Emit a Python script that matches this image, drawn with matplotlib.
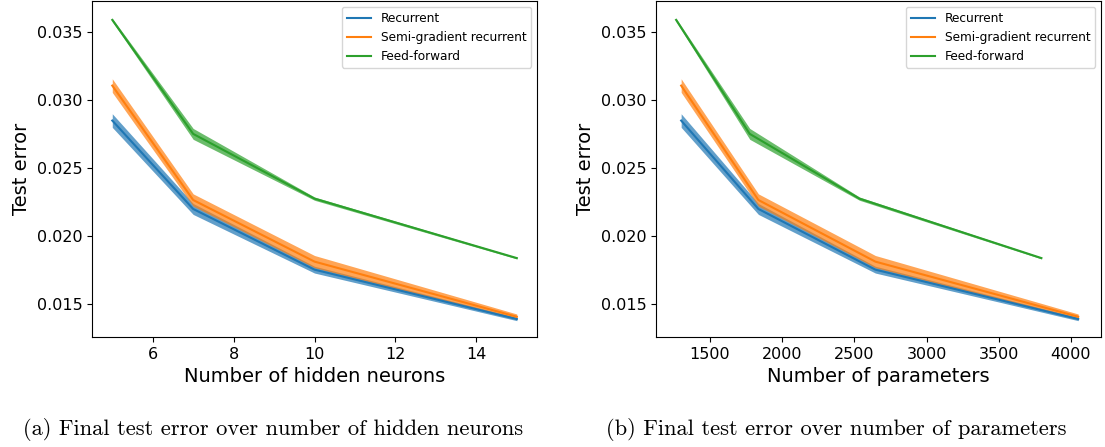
import matplotlib
matplotlib.use("Agg")
import numpy as np
import matplotlib.pyplot as plt

# hidden neurons and parameter counts
hidden = [5, 7, 10, 15]
params_rec = [1300, 1835, 2645, 4050]
params_ff = [1265, 1775, 2535, 3795]

# mean test error and band half-width
rec_mean = [0.02846, 0.02196, 0.0175, 0.01387]
rec_err = [0.0005, 0.0004, 0.00025, 0.00012]
semi_mean = [0.03103, 0.02262, 0.01809, 0.01404]
semi_err = [0.0005, 0.00045, 0.00045, 0.0002]
ff_mean = [0.03586, 0.02748, 0.02272, 0.01835]
ff_err = [0.00012, 0.0004, 0.00012, 0.00006]

labels = ["Recurrent", "Semi-gradient recurrent", "Feed-forward"]
colors = ["tab:blue", "tab:orange", "tab:green"]

captions = ["(a) Final test error over number of hidden neurons",
            "(b) Final test error over number of parameters"]
xlabels = ["Number of hidden neurons", "Number of parameters"]


def draw(ax, xs, xlabel):
    series = [(rec_mean, rec_err), (semi_mean, semi_err), (ff_mean, ff_err)]
    for (m, e), x, lab, c in zip(series, xs, labels, colors):
        m = np.array(m)
        e = np.array(e)
        ax.plot(x, m, color=c, label=lab, lw=1.5)
        ax.fill_between(x, m - e, m + e, color=c, alpha=0.7, lw=0)
    ax.set_xlabel(xlabel, fontsize=14)
    ax.set_ylabel("Test error", fontsize=14)
    ax.tick_params(labelsize=11.5)
    ax.set_ylim(0.01255, 0.03725)
    ax.legend(loc="upper right", fontsize=8.7)


fig = plt.figure(figsize=(11.05, 4.47), dpi=100)
ax1 = fig.add_axes([0.0833, 0.2461, 0.4027, 0.7517])
ax2 = fig.add_axes([0.5937, 0.2461, 0.4027, 0.7517])

draw(ax1, [hidden, hidden, hidden], xlabels[0])
draw(ax2, [params_rec, params_rec, params_ff], xlabels[1])
ax2.set_xlim(1126, 4208)

fig.text(0.247, 0.0268, captions[0], family="cmr10", fontsize=16.2,
         ha="center", va="baseline")
fig.text(0.757, 0.0268, captions[1], family="cmr10", fontsize=16.2,
         ha="center", va="baseline")

fig.savefig("out.png", dpi=100)
